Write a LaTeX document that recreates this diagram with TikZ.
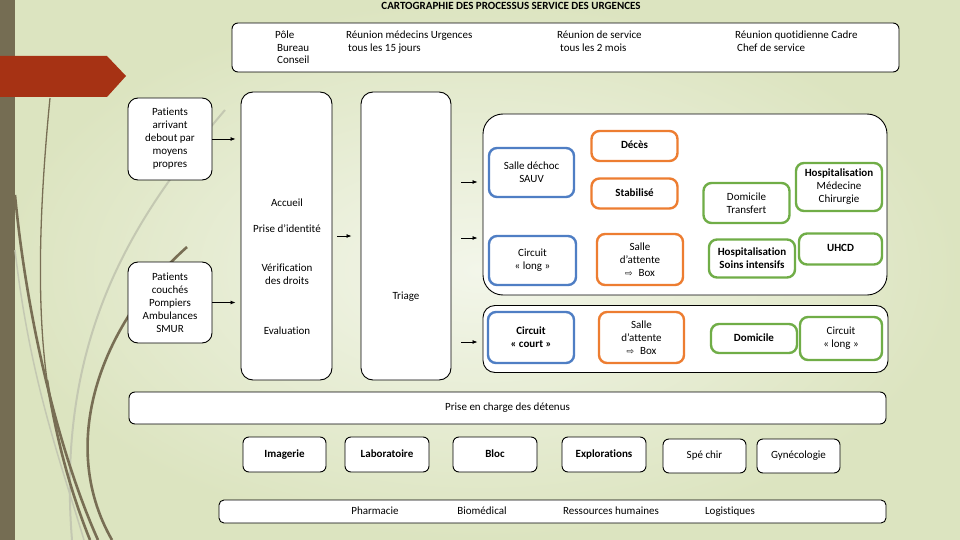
\documentclass[tikz,border=0pt]{standalone}
\usepackage{fontspec}
\setmainfont{Carlito}[Ligatures=NoCommon]
\newfontfamily\symfont{DejaVu Sans}
\usetikzlibrary{arrows.meta}
\definecolor{bgin}{RGB}{243,246,234}
\definecolor{bgout}{RGB}{220,228,192}
\definecolor{barbrown}{RGB}{117,109,83}
\definecolor{banner}{RGB}{166,50,20}
\definecolor{wispbrown}{RGB}{120,110,84}
\definecolor{wispgray}{RGB}{196,200,178}
\definecolor{cblue}{RGB}{79,126,196}
\definecolor{corange}{RGB}{237,125,49}
\definecolor{cgreen}{RGB}{112,173,71}
\begin{document}
\begin{tikzpicture}[x=1pt,y=-1pt,
  txt/.style={font=\fontsize{11}{13}\selectfont, align=center, inner sep=0pt},
  line1/.style={text height=8pt, text depth=2.5pt},
  wh/.style 2 args={minimum width=#1pt, minimum height=#2pt},
  box/.style={draw=black, line width=0.9pt, fill=white, rounded corners=#1, inner sep=0pt,
    font=\fontsize{11}{13}\selectfont, align=center},
  box/.default=7pt,
  cbox/.style={draw=#1, line width=2.4pt, fill=white, rounded corners=8pt, inner sep=0pt,
    font=\fontsize{11}{13}\selectfont, align=center},
  svc/.style={box=6pt, line1},
  arr/.style={-{Latex[length=5pt,width=4pt]}, line width=0.8pt},
]
\useasboundingbox (0,0) rectangle (960,540);
% background
\shade[inner color=bgin, outer color=bgout] (0,0) rectangle (960,540);
\fill[barbrown] (0,0) rectangle (15,540);
\fill[banner] (0,56) -- (107,56) -- (126,76) -- (107,97) -- (0,97) -- cycle;
% wisps
\draw[wispgray, line width=2pt] (225,110) .. controls (140,210) and (55,330) .. (72,540);
\draw[wispgray, line width=1.5pt] (15,250) .. controls (30,380) and (60,460) .. (84,540);
\draw[wispbrown, line width=1.3pt] (50,98) .. controls (40,200) and (36,300) .. (47,380);
\draw[wispbrown, line width=2.6pt] (47,380) .. controls (58,450) and (74,500) .. (90,540);
\draw[wispbrown, line width=2.6pt] (15,195) .. controls (28,330) and (62,460) .. (98,540);
\draw[wispbrown, line width=2.6pt] (187,247) .. controls (105,320) and (55,440) .. (112,540);

% title
\node[txt, line1, font=\fontsize{11}{12}\selectfont\bfseries] (title) at (511,7) {CARTOGRAPHIE DES PROCESSUS SERVICE DES URGENCES};

% top box
\node[box=6pt, wh={667}{49}] (top) at (565.5,47.5) {};
\node[txt, line1, anchor=west] (t1) at (275,36) {Pôle};
\node[txt, line1, anchor=west] (t2) at (277,49) {Bureau};
\node[txt, line1, anchor=west] (t3) at (277,61) {Conseil};
\node[txt, line1, anchor=west] (t4) at (346,36) {Réunion médecins Urgences};
\node[txt, line1, anchor=west] (t5) at (348,49) {tous les 15 jours};
\node[txt, line1, anchor=west] (t6) at (557,36) {Réunion de service};
\node[txt, line1, anchor=west] (t7) at (560,49) {tous les 2 mois};
\node[txt, line1, anchor=west] (t8) at (735,36) {Réunion quotidienne Cadre};
\node[txt, line1, anchor=west] (t9) at (737,49) {Chef de service};

% patients
\node[box=10pt, wh={84}{82}] (pa) at (170,139) {Patients\\arrivant\\debout par\\moyens\\propres};
\node[box=10pt, wh={84}{81}] (pc) at (170,302.5) {Patients\\couchés\\Pompiers\\Ambulances\\SMUR};

% accueil / triage
\node[box=12pt, wh={91}{288}] (acc) at (286.5,236) {};
\node[txt, line1] (acc1) at (287,204) {Accueil};
\node[txt, line1] (acc2) at (287,230) {Prise d’identité};
\node[txt] (acc3) at (287,274.5) {Vérification\\des droits};
\node[txt, line1] (acc4) at (287,332) {Evaluation};
\node[box=12pt, wh={90}{288}] (tri) at (406,236) {};
\node[txt, line1] (tri1) at (406,297) {Triage};

% groups
\node[box=20pt, wh={404}{181}] (g1) at (685,204.5) {};
\node[box=12pt, wh={405}{67}] (g2) at (685.5,339) {};

% upper group content
\node[cbox=cblue, wh={85}{49}] (sd) at (531.5,172.5) {Salle déchoc\\SAUV};
\node[cbox=corange, wh={86}{30}, line1] (deces) at (634.5,146) {\bfseries Décès};
\node[cbox=corange, wh={86}{30}, line1] (stab) at (634.5,193.5) {\bfseries Stabilisé};
\node[cbox=cblue, wh={87}{49}] (cl) at (532.5,260.5) {Circuit\\« long »};
\node[cbox=corange, wh={86}{51}] (sa1) at (640,259.5) {Salle\\d’attente\\{\symfont\fontsize{9}{13}\selectfont ⇨}\hspace{6pt}Box};
\node[cbox=cgreen, wh={86}{40}] (dt) at (746.5,203) {Domicile\\Transfert};
\node[cbox=cgreen, wh={86}{48}] (hmc) at (839,187) {\bfseries Hospitalisation\\Médecine\\Chirurgie};
\node[cbox=cgreen, wh={86}{38}] (hsi) at (752,258.5) {\bfseries Hospitalisation\\\bfseries Soins intensifs};
\node[cbox=cgreen, wh={83}{31}, line1] (uhcd) at (840.5,249) {\bfseries UHCD};

% lower group content
\node[cbox=cblue, wh={86}{51}] (cc) at (531,337.5) {\bfseries Circuit\\\bfseries « court »};
\node[cbox=corange, wh={85}{51}] (sa2) at (641.5,337.5) {Salle\\d’attente\\{\symfont\fontsize{9}{13}\selectfont ⇨}\hspace{6pt}Box};
\node[cbox=cgreen, wh={86}{29}, line1] (dom) at (754,338.5) {\bfseries Domicile};
\node[cbox=cgreen, wh={82}{43}] (cl2) at (841,338.5) {Circuit\\« long »};

% detenus
\node[box=6pt, wh={757}{32}, line1] (det) at (507.5,408) {Prise en charge des détenus};

% services
\node[svc, wh={83}{35}, font=\fontsize{11}{13}\selectfont\bfseries] (img) at (284.5,454.5) {Imagerie};
\node[svc, wh={84}{35}, font=\fontsize{11}{13}\selectfont\bfseries] (lab) at (387,454.5) {Laboratoire};
\node[svc, wh={84}{35}, font=\fontsize{11}{13}\selectfont\bfseries] (bloc) at (495,454.5) {Bloc};
\node[svc, wh={84}{35}, font=\fontsize{11}{13}\selectfont\bfseries] (expl) at (604,454.5) {Explorations};
\node[svc, wh={83}{34}] (spe) at (704.5,456) {Spé chir};
\node[svc, wh={83}{34}] (gyn) at (798.5,456) {Gynécologie};

% support
\node[box=5pt, wh={667}{23}] (sup) at (552.5,511.5) {};
\node[txt, line1] (s1) at (375,512) {Pharmacie};
\node[txt, line1] (s2) at (482,512) {Biomédical};
\node[txt, line1] (s3) at (611,512) {Ressources humaines};
\node[txt, line1] (s4) at (730,512) {Logistiques};

% arrows
\draw[arr, shorten >=5pt] (pa.east) -- (pa.east -| acc.west);
\draw[arr, shorten >=5pt] (pc.east) -- (pc.east -| acc.west);
\draw[arr, shorten <=5pt, shorten >=9pt] (acc.east) -- (tri.west);
\coordinate (r1) at (0,182);
\coordinate (r2) at (0,238);
\coordinate (r3) at (0,342);
\draw[arr, shorten <=10pt, shorten >=5pt] (tri.east |- r1) -- (g1.west |- r1);
\draw[arr, shorten <=10pt, shorten >=5pt] (tri.east |- r2) -- (g1.west |- r2);
\draw[arr, shorten <=10pt, shorten >=5pt] (tri.east |- r3) -- (g2.west |- r3);
\end{tikzpicture}
\end{document}
